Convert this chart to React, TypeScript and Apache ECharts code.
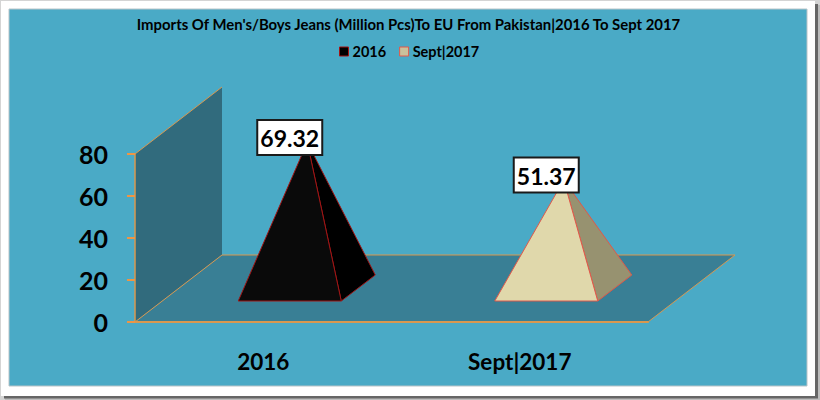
import React, { useEffect, useRef } from "react";
import * as echarts from "echarts";

const titleText = "Imports Of Men's/Boys Jeans (Million Pcs)To EU From Pakistan|2016 To Sept 2017";
const categories = ["2016", "Sept|2017"];
const values2016 = [[0, 69.32]];
const valuesSept = [[1, 51.37]];
const yMax = 80;
const yStep = 20;

const FONT = "Lato";
const ORANGE = "#d9984f";

const DX = 87;
const DY = -67;

function pyramid(front: string, side: string, stroke: string) {
  return (_p: any, api: any) => {
    const i = api.value(0);
    const v = api.value(1);
    const zero = api.coord([i, 0]);
    const top = api.coord([i, v]);
    const cx = zero[0];
    const fl = [cx - 25, zero[1] - 21];
    const fr = [cx + 78, zero[1] - 21];
    const br = [cx + 112, zero[1] - 47];
    const apex = [cx + 44, top[1] - 34];
    const shape = (points: number[][], fill: string) => ({
      type: "polygon",
      shape: { points },
      style: { fill, stroke, lineWidth: 1 },
    });
    return {
      type: "group",
      children: [
        shape([fr, br, apex], side),
        shape([fl, fr, apex], front),
        {
          type: "rect",
          shape: { x: cx - 6, y: top[1] - 56.5, width: 65, height: 35 },
          style: { fill: "#ffffff", stroke: "#1a1a1a", lineWidth: 2 },
        },
        {
          type: "text",
          style: {
            x: cx + 26.5,
            y: top[1] - 38.5,
            text: String(v),
            fill: "#000",
            font: `bold 23px ${FONT}`,
            align: "center",
            verticalAlign: "middle",
          },
        },
      ],
    };
  };
}

function backdrop(params: any) {
  const c = params.coordSys;
  const a = [c.x, c.y + c.height];
  const b = [c.x + c.width, c.y + c.height];
  const t = [c.x, c.y];
  const o = (p: number[]) => [p[0] + DX, p[1] + DY];
  return {
    type: "group",
    children: [
      {
        type: "polygon",
        shape: { points: [a, t, o(t), o(a)] },
        style: { fill: "#316b7d" },
      },
      {
        type: "polygon",
        shape: { points: [a, b, o(b), o(a)] },
        style: { fill: "#397f95", stroke: ORANGE, lineWidth: 1 },
      },
      {
        type: "polyline",
        shape: { points: [t, o(t)] },
        style: { fill: "none", stroke: ORANGE, lineWidth: 1 },
      },
    ],
  };
}

export default function App() {
  const ref = useRef<HTMLDivElement>(null);
  useEffect(() => {
    const chart = echarts.init(ref.current!, null, { renderer: "svg" });
    chart.setOption({
      animation: false,
      backgroundColor: "#ffffff",
      textStyle: { fontFamily: FONT },
      title: {
        text: titleText,
        left: 403.5,
        top: 11,
        textAlign: "center",
        textStyle: { fontSize: 14.9, fontWeight: "bold", color: "#000", fontFamily: FONT },
      },
      legend: {
        left: 339,
        top: 44,
        padding: 0,
        itemWidth: 9,
        itemHeight: 9,
        itemGap: 13,
        textStyle: { fontSize: 14.5, fontWeight: "bold", color: "#000", fontFamily: FONT, padding: [0, 0, 0, -1] },
        data: [
          { name: "2016", icon: "rect", itemStyle: { color: "#000", borderColor: "#a01515", borderWidth: 1 } },
          { name: "Sept|2017", icon: "rect", itemStyle: { color: "#c9c19c", borderColor: "#e0584a", borderWidth: 1 } },
        ],
      },
      graphic: [
        { type: "rect", z: -5, shape: { x: 0, y: 0, width: 820, height: 400 }, style: { fill: "#d4d4d4" } },
        { type: "rect", z: -4, shape: { x: 5, y: 5, width: 815, height: 395 }, style: { fill: "#bdbdbd" } },
        { type: "rect", z: -3, shape: { x: 4, y: 4, width: 814, height: 394.5 }, style: { fill: "#666666" } },
        { type: "rect", z: -2, shape: { x: 1, y: 1, width: 814, height: 395 }, style: { fill: "#ffffff" } },
        { type: "rect", z: -1, shape: { x: 9, y: 9, width: 798, height: 377 }, style: { fill: "#4aaac6", stroke: "#b9c4c8", lineWidth: 1 } },
      ],
      grid: { left: 135, top: 154, width: 513, height: 168 },
      xAxis: {
        type: "category",
        data: categories,
        z: 3,
        axisLine: { lineStyle: { color: ORANGE, width: 2 } },
        axisTick: { show: false },
        axisLabel: { fontSize: 22.5, fontWeight: "bold", color: "#000", margin: 28, fontFamily: FONT },
      },
      yAxis: {
        type: "value",
        min: 0,
        max: yMax,
        interval: yStep,
        z: 3,
        splitLine: { show: false },
        axisLine: { show: true, lineStyle: { color: ORANGE, width: 1.5 } },
        axisTick: { show: true, length: 8, lineStyle: { color: "#ee9544", width: 2 } },
        axisLabel: { fontSize: 25, fontWeight: "bold", color: "#000", margin: 27, fontFamily: FONT },
      },
      series: [
        { type: "custom", name: "backdrop", silent: true, z: 1, renderItem: backdrop, data: [[0, 0]], encode: { x: 0, y: 1 } },
        { type: "custom", name: "2016", z: 2, renderItem: pyramid("#0a0a0a", "#000000", "#a01515"), data: values2016, encode: { x: 0, y: 1 } },
        { type: "custom", name: "Sept|2017", z: 2, renderItem: pyramid("#e0d8ab", "#979270", "#e0584a"), data: valuesSept, encode: { x: 0, y: 1 } },
      ],
    });
    return () => chart.dispose();
  }, []);
  return <div ref={ref} style={{ position: "fixed", left: 0, top: 0, width: 820, height: 400 }} />;
}
